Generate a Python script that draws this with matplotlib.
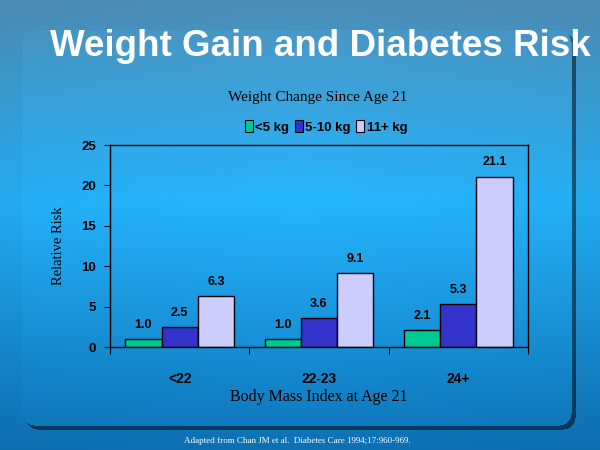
import numpy as np
import matplotlib
matplotlib.use("Agg")
import matplotlib.pyplot as plt
from matplotlib.patches import Patch

# data
groups = ["<22", "22-23", "24+"]
series_names = ["<5 kg", "5-10 kg", "11+ kg"]
lt5 = [1.0, 1.0, 2.1]
mid = [2.5, 3.6, 5.3]
gt11 = [6.3, 9.1, 21.1]
colors = ["#00c994", "#3333cc", "#ccccff"]
y_ticks = [0, 5, 10, 15, 20, 25]

W, H = 600, 450


def rounded_mask(px, py, x0, y0, x1, y1, r):
    cx = np.clip(px, x0 + r, x1 - r)
    cy = np.clip(py, y0 + r, y1 - r)
    return (px - cx) ** 2 + (py - cy) ** 2 <= r ** 2


fig = plt.figure(figsize=(6, 4.5), dpi=100)

# background gradient with the slide panel's drop shadow
bg = fig.add_axes([0, 0, 1, 1], zorder=0)
bg.axis("off")
py, px = np.mgrid[0:H, 0:W].astype(float)
yy = py / H
top = np.array([0.30, 0.56, 0.72])
midc = np.array([0.14, 0.69, 0.97])
bot = np.array([0.05, 0.44, 0.70])
t = np.clip(yy / 0.45, 0, 1)[..., None]
u = np.clip((yy - 0.45) / 0.55, 0, 1)[..., None]
img = np.where(yy[..., None] < 0.45, top * (1 - t) + midc * t, midc * (1 - u) + bot * u)
img = img * (1 - 0.06 * np.abs(px / W - 0.5))[..., None]
panel = rounded_mask(px, py, 22, 30, 571, 425, 12)
shade = rounded_mask(px, py, 25, 33, 575, 429, 12) & ~panel
img[panel] *= 1.03
img[shade] *= 0.5
bg.imshow(np.clip(img, 0, 1), extent=[0, W, H, 0], aspect="auto", interpolation="bilinear")
bg.set_xlim(0, W)
bg.set_ylim(H, 0)

bg.text(320, 47, "Weight Gain and Diabetes Risk", color="white", fontsize=26.5,
        fontweight="bold", family="Liberation Sans", ha="center", va="center")
bg.text(318, 97, "Weight Change Since Age 21", color="black", fontsize=11,
        family="Liberation Serif", ha="center", va="center")
bg.text(297, 441, "Adapted from Chan JM et al.  Diabetes Care 1994;17:960-969.",
        color="white", fontsize=6.5, family="Liberation Serif", ha="center", va="center")

# chart
ax = fig.add_axes([110 / W, 1 - 347 / H, 418 / W, 202 / H], zorder=1)
ax.patch.set_alpha(0)
x = np.arange(len(groups))
bw = 0.26
for i, (vals, c) in enumerate(zip([lt5, mid, gt11], colors)):
    pos = x + (i - 1) * bw
    ax.bar(pos, vals, bw, color=c, edgecolor="black", linewidth=1)
    for p, v in zip(pos, vals):
        ax.text(p, v + 1.0, f"{v:.1f}", ha="center", va="bottom", fontsize=9,
                fontweight="bold", family="Liberation Sans")

ax.set_xlim(-0.5, len(groups) - 0.5)
ax.set_ylim(0, 25)
ax.set_yticks(y_ticks)
ax.set_yticklabels([str(v) for v in y_ticks], fontsize=9.5, fontweight="bold",
                   family="Liberation Sans")
ax.set_xticks(np.arange(len(groups) + 1) - 0.5)
ax.set_xticklabels([])
ax.set_xticks(x, minor=True)
ax.set_xticklabels(groups, minor=True, fontsize=10, fontweight="bold",
                   family="Liberation Sans")
ax.tick_params(axis="x", which="minor", length=0, pad=18)
ax.tick_params(axis="x", which="major", length=5, direction="out")
ax.tick_params(axis="y", length=4, direction="out", pad=6)
for s in ax.spines.values():
    s.set_linewidth(1)

ax.set_ylabel("Relative Risk", fontsize=10.5, family="Liberation Serif", labelpad=12)
ax.set_xlabel("Body Mass Index at Age 21", fontsize=11.5, family="Liberation Serif",
              labelpad=2)

handles = [Patch(fc=c, ec="black", lw=0.8) for c in colors]
fig.legend(handles, series_names, loc="center", bbox_to_anchor=(326 / W, 1 - 127 / H),
           ncol=3, frameon=False, prop={"family": "Liberation Sans", "weight": "bold", "size": 9.5},
           handlelength=0.6, handleheight=1.0, handletextpad=0.2, columnspacing=0.4)

fig.savefig("out.png", dpi=100)
